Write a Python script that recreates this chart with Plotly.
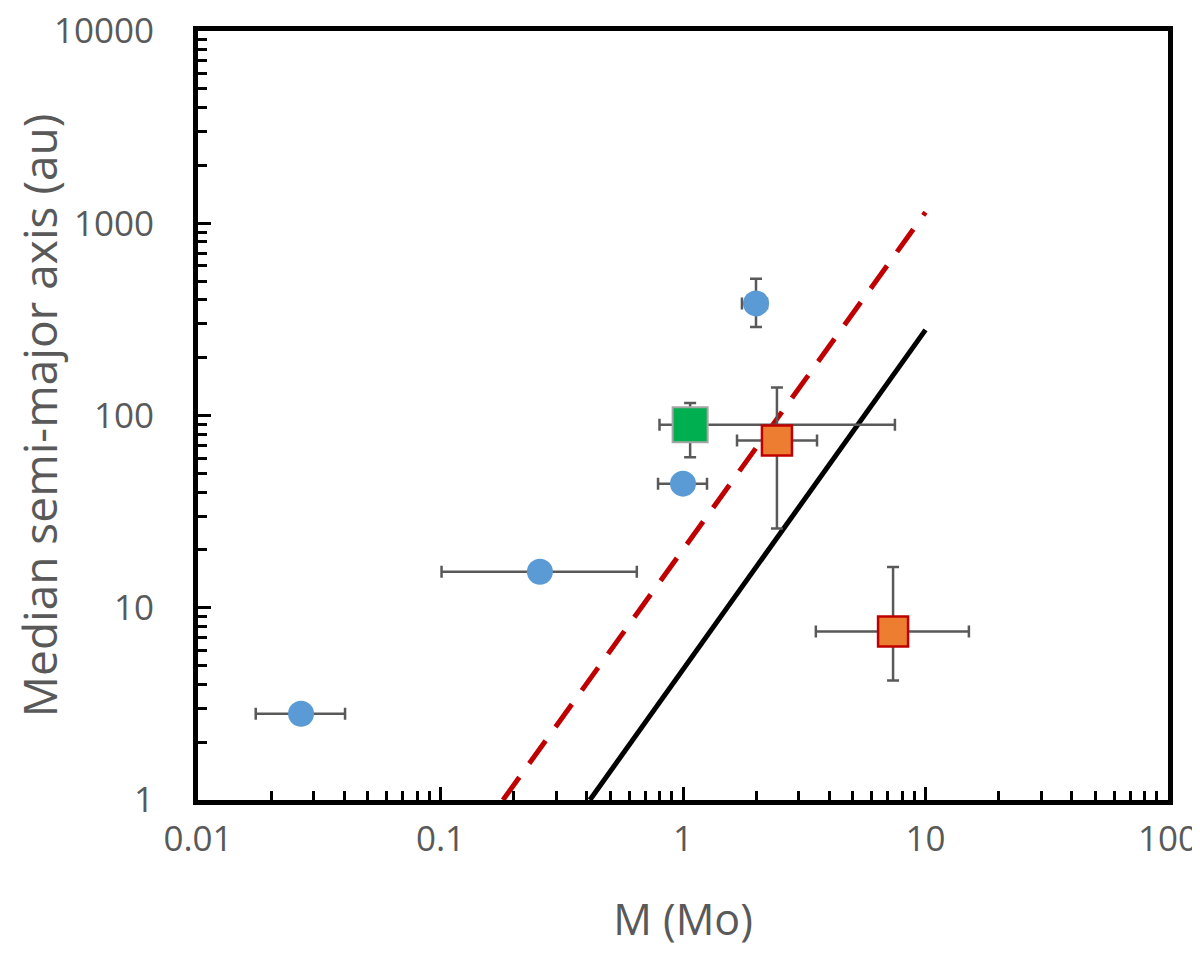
import plotly.graph_objects as go

# blue circles
circ_m = [0.0266, 0.257, 1.0, 2.0]
circ_a = [2.81, 15.4, 44.2, 383]
circ_m_lo = [0.0173, 0.101, 0.789, 1.75]
circ_m_hi = [0.0404, 0.645, 1.256, 2.22]
circ_a_lo = [2.81, 15.4, 44.2, 289]
circ_a_hi = [2.81, 15.4, 44.2, 514]

# green square
sq_g_m = [1.07]
sq_g_a = [89.5]
sq_g_m_lo = [0.80]
sq_g_m_hi = [7.48]
sq_g_a_lo = [60.7]
sq_g_a_hi = [116]

# orange squares
sq_o_m = [2.44, 7.35]
sq_o_a = [74.1, 7.52]
sq_o_m_lo = [1.67, 3.53]
sq_o_m_hi = [3.57, 15.1]
sq_o_a_lo = [25.8, 4.19]
sq_o_a_hi = [139.7, 16.3]

# power-law lines (end points)
solid_m = [0.413, 10]
solid_a = [1, 279]
dash_m = [0.181, 10]
dash_a = [1, 1141]

x_ticks = [0.01, 0.1, 1, 10, 100]
x_labels = ["0.01", "0.1", "1", "10", "100"]
y_ticks = [1, 10, 100, 1000, 10000]
y_labels = ["1", "10", "100", "1000", "10000"]

GREY = "#595959"


def errbars(vals, lo, hi):
    return dict(type="data", symmetric=False,
                array=[h - v for v, h in zip(vals, hi)],
                arrayminus=[v - l for v, l in zip(vals, lo)],
                color=GREY, thickness=2.5, width=6)


def minor_vals(first, last):
    out = []
    d = first
    while d < last:
        out += [k * d for k in range(2, 10)]
        d *= 10
    return out


fig = go.Figure()
fig.add_trace(go.Scatter(x=dash_m, y=dash_a, mode="lines",
                         line=dict(color="#C00000", width=5, dash="28px,17px")))
fig.add_trace(go.Scatter(x=solid_m, y=solid_a, mode="lines",
                         line=dict(color="black", width=5)))
fig.add_trace(go.Scatter(
    x=circ_m, y=circ_a, mode="markers",
    marker=dict(symbol="circle", size=26, color="#5B9BD5", line=dict(width=0)),
    error_x=errbars(circ_m, circ_m_lo, circ_m_hi),
    error_y=errbars(circ_a, circ_a_lo, circ_a_hi),
))
fig.add_trace(go.Scatter(
    x=sq_g_m, y=sq_g_a, mode="markers",
    marker=dict(symbol="square", size=35, color="#00B050",
                line=dict(width=2, color="#A5A5A5")),
    error_x=errbars(sq_g_m, sq_g_m_lo, sq_g_m_hi),
    error_y=errbars(sq_g_a, sq_g_a_lo, sq_g_a_hi),
))
fig.add_trace(go.Scatter(
    x=sq_o_m, y=sq_o_a, mode="markers",
    marker=dict(symbol="square", size=30, color="#ED7D31",
                line=dict(width=2.5, color="#C00000")),
    error_x=errbars(sq_o_m, sq_o_m_lo, sq_o_m_hi),
    error_y=errbars(sq_o_a, sq_o_a_lo, sq_o_a_hi),
))

axis_common = dict(
    type="log", showgrid=False, zeroline=False, automargin=False,
    showline=True, linecolor="black", linewidth=5, mirror=True,
    ticks="inside", ticklen=13, tickwidth=2.5, tickcolor="black",
    ticklabeloverflow="allow",
    tickfont=dict(family="Open Sans", size=35, color=GREY),
)

fig.update_xaxes(axis_common, range=[-2, 2], title_text="M (Mo)",
                 title_font=dict(family="Open Sans", size=43, color=GREY),
                 tickmode="array", tickvals=x_ticks, ticktext=x_labels,
                 minor=dict(tickmode="array", tickvals=minor_vals(0.01, 100),
                            ticks="inside", ticklen=9, tickwidth=2.5,
                            tickcolor="black", showgrid=False),
                 ticklabelstandoff=4, title_standoff=46)
fig.update_yaxes(axis_common, range=[0, 4],
                 title_text="Median semi-major axis (au)",
                 title_font=dict(family="Open Sans", size=46, color=GREY),
                 tickmode="array", tickvals=y_ticks, ticktext=y_labels,
                 minor=dict(tickmode="array", tickvals=minor_vals(1, 10000),
                            ticks="inside", ticklen=9, tickwidth=2.5,
                            tickcolor="black", showgrid=False),
                 ticklabelstandoff=32, title_standoff=14)

fig.update_layout(
    width=1200, height=961,
    margin=dict(l=190, r=40, t=23, b=169),
    plot_bgcolor="white", paper_bgcolor="white",
    showlegend=False,
)

fig.write_html("out.html")
